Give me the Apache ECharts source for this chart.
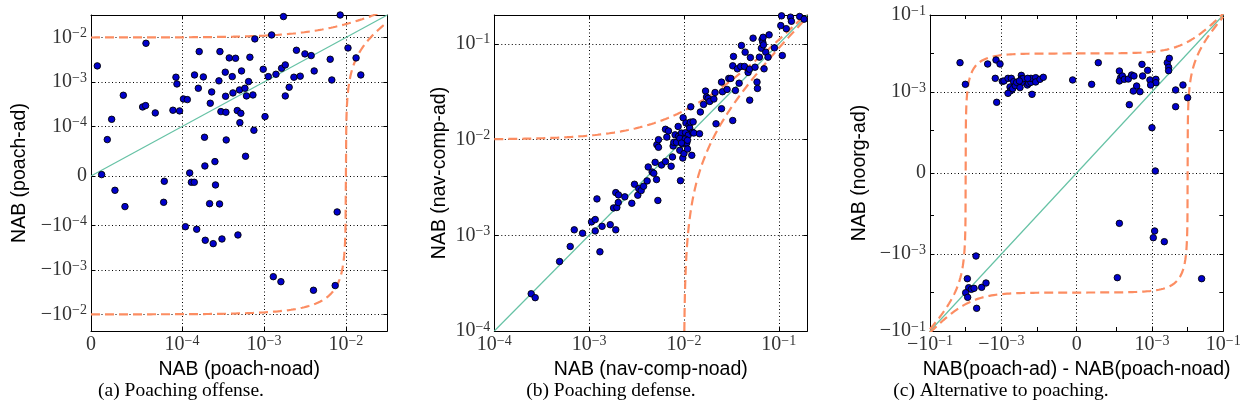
<!DOCTYPE html>
<html><head><meta charset="utf-8">
<script src="https://cdn.jsdelivr.net/npm/echarts@6/dist/echarts.min.js"></script>
<style>html,body{margin:0;padding:0;background:#fff}#chart{width:1245px;height:416px}</style>
</head><body><div id="chart"></div>
<script>
// ---------- Panel (a): Poaching offense ----------
const aX = [6.95e-6,1.17e-5,1.79e-5,2.27e-5,2.63e-5,3.55e-5,3.73e-5,5.67e-5,6.00e-5,6.04e-5,
  7.06e-5,8.05e-5,7.98e-5,9.0e-5,9.33e-5,9.44e-5,9.73e-5,1.04e-4,1.10e-4,1.16e-4,
  1.24e-4,1.30e-4,1.41e-4,1.42e-4,1.51e-4,1.58e-4,1.62e-4,1.82e-4,1.88e-4,1.90e-4,
  1.92e-4,2.17e-4,2.21e-4,2.30e-4,2.40e-4,2.52e-4,2.56e-4,2.82e-4,2.90e-4,2.87e-4,
  2.98e-4,3.07e-4,3.37e-4,3.40e-4,3.46e-4,3.43e-4,3.77e-4,4.10e-4,4.18e-4,4.50e-4,
  4.72e-4,4.81e-4,5.03e-4,5.08e-4,5.22e-4,5.32e-4,5.85e-4,5.96e-4,6.12e-4,6.49e-4,
  6.73e-4,7.33e-4,7.53e-4,7.74e-4,9.79e-4,1.03e-3,1.13e-3,1.24e-3,1.30e-3,1.40e-3,
  1.61e-3,1.64e-3,1.73e-3,1.82e-3,1.82e-3,2.03e-3,2.32e-3,2.49e-3,2.77e-3,3.16e-3,
  3.77e-3,4.02e-3,4.10e-3,6.43e-3,6.73e-3,7.40e-3,7.82e-3,8.51e-3,1.06e-2,1.33e-2,1.52e-2];
const aY = [2.30e-3,2.7e-6,7.35e-5,1.45e-4,-2.90e-5,5.03e-4,-6.20e-5,2.75e-4,2.95e-4,7.41e-3,
  2.02e-4,-1.08e-5,-5.33e-5,2.32e-4,1.28e-3,9.04e-4,2.24e-4,4.16e-4,-1.07e-4,4.02e-4,
  6.07e-6,-1.28e-5,-1.28e-5,1.44e-3,-1.22e-4,7.23e-4,4.82e-3,1.30e-3,7.82e-5,2.02e-5,
  -2.16e-4,-5.60e-5,3.33e-4,5.98e-4,-2.57e-4,2.90e-5,-1.82e-5,1.06e-3,4.82e-3,-5.66e-5,
  2.16e-4,-2.02e-4,1.66e-3,4.78e-4,7.28e-5,2.09e-4,3.48e-3,1.32e-3,5.68e-4,3.41e-3,
  2.28e-4,-1.64e-4,6.64e-4,1.22e-4,1.98e-4,1.77e-3,7.23e-4,3.98e-5,4.86e-4,1.02e-3,
  3.60e-3,5.12e-4,9.24e-5,9.29e-3,1.93e-3,1.67e-4,1.32e-3,1.14e-2,-1.42e-3,1.49e-3,
  -1.84e-3,2.03e-3,2.95e-2,2.42e-3,4.86e-4,7.62e-4,1.28e-3,5.16e-3,1.35e-3,4.28e-3,
  3.92e-3,-2.87e-3,1.77e-3,3.24e-3,1.11e-3,-2.25e-3,-7.28e-5,3.2e-2,5.82e-3,3.48e-3,1.44e-3];
const aXRange = [0, 0.032];
const aYRange = [-0.0236, 0.032];
const aXTicks = [0, 1e-4, 1e-3, 1e-2];
const aYTicks = [-1e-2, -1e-3, -1e-4, 0, 1e-4, 1e-3, 1e-2];

// ---------- Panel (b): Poaching defense ----------
const bX = [2.45e-4,2.70e-4,4.88e-4,6.32e-4,6.97e-4,8.53e-4,1.06e-3,1.16e-3,1.16e-3,1.21e-3,
  1.30e-3,1.37e-3,1.67e-3,1.81e-3,1.91e-3,1.91e-3,1.96e-3,2.03e-3,2.04e-3,2.38e-3,
  2.82e-3,3.01e-3,3.26e-3,3.34e-3,3.54e-3,3.75e-3,4.09e-3,4.20e-3,4.62e-3,4.81e-3,
  4.97e-3,5.14e-3,5.18e-3,5.31e-3,5.39e-3,5.39e-3,5.80e-3,6.39e-3,6.39e-3,6.60e-3,
  6.87e-3,7.33e-3,7.57e-3,7.69e-3,7.82e-3,8.07e-3,8.34e-3,8.69e-3,8.75e-3,9.04e-3,
  9.19e-3,9.42e-3,9.66e-3,9.73e-3,9.81e-3,1.00e-2,1.04e-2,1.05e-2,1.07e-2,1.09e-2,
  1.11e-2,1.13e-2,1.15e-2,1.17e-2,1.18e-2,1.21e-2,1.23e-2,1.25e-2,1.27e-2,1.46e-2,
  1.49e-2,1.61e-2,1.69e-2,1.73e-2,1.80e-2,1.87e-2,2.07e-2,2.13e-2,2.18e-2,2.49e-2,
  2.49e-2,2.55e-2,2.85e-2,2.97e-2,3.12e-2,3.27e-2,3.27e-2,3.33e-2,3.49e-2,3.66e-2,
  3.82e-2,3.97e-2,4.04e-2,4.35e-2,4.42e-2,4.75e-2,4.91e-2,4.94e-2,5.02e-2,5.36e-2,
  5.62e-2,5.90e-2,5.96e-2,6.25e-2,6.56e-2,6.67e-2,6.78e-2,6.84e-2,6.89e-2,7.00e-2,
  7.29e-2,7.71e-2,7.91e-2,9.00e-2,0.105,0.107,0.109,0.120,0.133,0.136,
  0.166,0.185,9.04e-3,1.03e-2,9.42e-3,1.09e-2];
const bY = [2.45e-4,2.23e-4,5.32e-4,7.64e-4,1.14e-3,1.05e-3,1.38e-3,1.46e-3,1.11e-3,2.40e-3,
  6.72e-4,1.24e-3,1.29e-3,1.93e-3,2.79e-3,1.14e-3,1.95e-3,2.20e-3,2.64e-3,2.52e-3,
  2.16e-3,3.41e-3,2.62e-3,3.07e-3,2.93e-3,3.25e-3,3.70e-3,5.17e-3,4.58e-3,4.44e-3,
  5.78e-3,3.82e-3,8.84e-3,2.31e-3,8.30e-3,9.97e-3,5.42e-3,5.88e-3,1.28e-2,1.06e-2,
  1.23e-2,5.26e-3,6.58e-3,8.57e-3,9.35e-3,1.12e-2,9.35e-3,1.37e-2,1.08e-2,7.71e-3,
  3.72e-3,1.17e-2,8.98e-3,6.41e-3,1.69e-2,7.13e-3,1.18e-2,1.49e-2,9.20e-3,7.96e-3,
  1.11e-2,1.41e-2,1.32e-2,1.52e-2,2.20e-2,6.84e-3,1.19e-2,1.53e-2,1.17e-2,1.15e-2,
  1.94e-2,2.33e-2,3.21e-2,2.78e-2,2.69e-2,2.50e-2,2.65e-2,3.10e-2,1.46e-2,2.10e-2,
  3.98e-2,3.16e-2,3.34e-2,4.35e-2,4.35e-2,5.89e-2,1.58e-2,7.38e-2,3.26e-2,5.48e-2,
  3.88e-2,5.80e-2,9.60e-2,5.80e-2,8.18e-2,5.02e-2,5.43e-2,2.58e-2,7.19e-2,0.1146,
  5.70e-2,3.98e-2,3.42e-2,7.26e-2,9.00e-2,0.111,0.104,0.117,9.75e-2,5.48e-2,
  8.18e-2,7.26e-2,0.124,9.08e-2,0.155,0.196,7.55e-2,0.144,0.190,0.172,
  0.193,0.181,1.03e-2,1.01e-2,9.20e-3,9.82e-3];
const bRange = [1e-4, 0.2];

// ---------- Panel (c): Alternative to poaching ----------
const cX = [-1.44e-2,-1.02e-2,-2.42e-3,-1.41e-3,-1.09e-3,-1.48e-3,-1.35e-3,-9.38e-4,-8.43e-4,-6.52e-4,
  -5.25e-4,-4.52e-4,-5.71e-4,-5.48e-4,-6.52e-4,-4.82e-4,-4.06e-4,-3.72e-4,-2.75e-4,-2.75e-4,
  -2.58e-4,-2.47e-4,-3.00e-4,-3.13e-4,-1.87e-4,-1.71e-4,-1.48e-4,-1.48e-4,-1.09e-4,-1.09e-4,
  -9.25e-5,-8.41e-5,-1.38e-4,-1.83e-4,-1.01e-5,3.78e-5,5.46e-5,1.22e-4,1.32e-4,1.48e-4,
  1.22e-4,1.68e-4,2.17e-4,2.69e-4,3.13e-4,5.48e-4,5.25e-4,7.57e-4,3.72e-4,3.00e-4,
  4.61e-4,8.79e-4,1.29e-3,1.29e-3,9.18e-4,2.32e-4,2.69e-3,3.06e-3,2.93e-3,2.93e-3,
  4.61e-3,4.61e-3,7.40e-3,1.00e-2,1.00e-3,1.24e-3,1.22e-4,1.19e-3,1.09e-3,2.22e-3,
  1.07e-4,2.47e-2,-5.13e-3,-8.97e-3,-8.24e-3,-6.93e-3,-5.83e-3,-3.56e-3,-2.69e-3,-1.00e-2,
  -8.79e-3,-4.92e-3];
const cY = [5.75e-3,1.57e-3,5.31e-3,6.75e-3,5.31e-3,2.25e-3,5.35e-4,1.88e-3,1.92e-3,2.25e-3,
  2.25e-3,1.84e-3,1.34e-3,1.07e-3,9.16e-4,1.21e-3,1.45e-3,1.77e-3,2.69e-3,2.20e-3,
  1.77e-3,2.20e-3,1.29e-3,1.92e-3,1.51e-3,1.67e-3,1.77e-3,2.25e-3,2.34e-3,1.81e-3,
  2.12e-3,2.39e-3,8.63e-4,2.25e-3,2.04e-3,1.57e-3,5.75e-3,3.49e-3,2.34e-3,2.59e-3,
  1.92e-3,2.12e-3,2.16e-3,2.75e-3,2.59e-3,2.59e-3,5.20e-3,3.63e-3,1.42e-3,1.05e-3,
  1.01e-3,2.04e-3,2.12e-3,1.73e-3,1.51e-3,4.65e-4,5.75e-3,7.46e-3,4.35e-3,3.56e-3,
  1.12e-3,4.12e-4,1.51e-3,7.06e-4,1.17e-4,4.7e-6,-1.58e-4,-2.50e-4,-3.73e-4,-4.74e-4,
  -4.09e-3,-4.35e-3,-1.12e-3,-4.35e-3,-7.46e-3,-8.24e-3,-7.76e-3,-7.31e-3,-5.64e-3,-1.01e-2,
  -1.33e-2,-2.57e-2];
const cRange = [-0.1, 0.1];
const cTicks = [-1e-1, -1e-3, 0, 1e-3, 1e-1];
const cMinorTicks = [-1e-2, -1e-4, 1e-4, 1e-2];

// reference curves y = x ± margin
const margin = 0.01;

const titles = {
  ax: 'NAB (poach-noad)', ay: 'NAB (poach-ad)',
  bx: 'NAB (nav-comp-noad)', by: 'NAB (nav-comp-ad)',
  cx: 'NAB(poach-ad) - NAB(poach-noad)', cy: 'NAB (noorg-ad)'
};
const captions = ['(a) Poaching offense.', '(b) Poaching defense.', '(c) Alternative to poaching.'];

// ---------- helpers ----------
const LTH = 1e-4;               // symlog linear threshold
const LSC = 1 / (1 - 1 / 10);   // matplotlib linscale adjustment
function sl(v) { const a = Math.abs(v); return a <= LTH ? v / LTH * LSC : Math.sign(v) * (LSC + Math.log10(a / LTH)); }
function isl(t) { const a = Math.abs(t); return a <= LSC ? t / LSC * LTH : Math.sign(t) * LTH * Math.pow(10, a - LSC); }

function fmtPow(v) {
  if (Math.abs(v) < 1e-12) return '{b|0}';
  const e = Math.round(Math.log10(Math.abs(v)));
  return '{b|' + (v < 0 ? '−' : '') + '10}{s|−' + (-e) + '}';
}
const TF = 'Liberation Serif';
const rich = {
  b: { fontFamily: TF, fontSize: 20, color: '#333', lineHeight: 22 },
  s: { fontFamily: TF, fontSize: 14, color: '#333', lineHeight: 12, verticalAlign: 'top' }
};
const nameStyle = { fontFamily: 'Liberation Sans', fontSize: 19.5, color: '#000' };
const frame = { show: true, onZero: false, lineStyle: { color: '#000', width: 1 } };
const tickStyle = { show: true, inside: true, length: 4, lineStyle: { color: '#000', width: 1 } };
const gridLine = { color: '#000', width: 1, type: [1, 2.5] };

function symAxis(g, pos, range, labelVals, tickVals, name, gap) {
  const main = pos === 'bottom' || pos === 'left';
  return {
    type: 'value', gridIndex: g, position: pos, min: sl(range[0]), max: sl(range[1]),
    axisLine: frame,
    axisTick: Object.assign({}, tickStyle, { customValues: tickVals.map(sl) }),
    axisLabel: { show: main, customValues: labelVals.map(sl), margin: pos === 'left' ? 4 : 3,
      formatter: v => fmtPow(isl(v)), rich: rich },
    splitLine: { show: false },
    name: main ? name : '', nameLocation: 'middle', nameGap: gap, nameTextStyle: nameStyle
  };
}
function logAxis(g, pos, range, name, gap) {
  const main = pos === 'bottom' || pos === 'left';
  return {
    type: 'log', logBase: 10, gridIndex: g, position: pos, min: range[0], max: range[1],
    axisLine: frame, axisTick: tickStyle,
    axisLabel: { show: main, margin: pos === 'left' ? 4 : 3, showMinLabel: true, showMaxLabel: true,
      formatter: v => { const e = Math.log10(v); return Math.abs(e - Math.round(e)) < 1e-6 ? fmtPow(v) : ''; },
      rich: rich },
    splitLine: { show: main, lineStyle: gridLine },
    name: main ? name : '', nameLocation: 'middle', nameGap: gap, nameTextStyle: nameStyle
  };
}
function refCurve(c, xr, yr, T, iT) {
  const pts = [], N = 400;
  const tx0 = T(xr[0]), tx1 = T(xr[1]), ty0 = T(yr[0]), ty1 = T(yr[1]);
  for (let i = 0; i <= N; i++) { const x = iT(tx0 + (tx1 - tx0) * i / N); pts.push([x, x + c]); }
  for (let i = 0; i <= N; i++) { const y = iT(ty0 + (ty1 - ty0) * i / N); const x = y - c;
    if (x >= xr[0] && x <= xr[1]) pts.push([x, y]); }
  pts.sort((p, q) => p[0] - q[0]);
  return pts;
}
const lg = Math.log10, p10 = t => Math.pow(10, t);

const dashStyle = { color: '#fc8d62', width: 2.2, type: [9, 5] };
const diagStyle = { color: '#66c2a5', width: 1.2 };
const dotStyle = { color: '#0000cc', borderColor: '#000', borderWidth: 0.9, opacity: 1 };

function gridMarks(xv, yv) {
  return { silent: true, symbol: 'none', z: 1, label: { show: false }, lineStyle: gridLine, animation: false,
    emphasis: { disabled: true },
    data: xv.map(v => ({ xAxis: sl(v) })).concat(yv.map(v => ({ yAxis: sl(v) }))) };
}
function lineSeries(g, data, style, z, extra) {
  return Object.assign({ type: 'line', xAxisIndex: 2 * g, yAxisIndex: 2 * g, data: data, showSymbol: false,
    symbol: 'none', lineStyle: style, z: z, silent: true, clip: true, animation: false }, extra || {});
}
function scatterSeries(g, data) {
  return { type: 'scatter', xAxisIndex: 2 * g, yAxisIndex: 2 * g, data: data, symbolSize: 6.5,
    itemStyle: dotStyle, z: 4, animation: false };
}
const toSym = pts => pts.map(p => [sl(p[0]), sl(p[1])]);

const grids = [
  { left: 91, top: 15, width: 296.3, height: 316 },
  { left: 494.3, top: 15, width: 313, height: 316 },
  { left: 930, top: 15, width: 293.3, height: 316 }
];

const xAxes = [
  symAxis(0, 'bottom', aXRange, aXTicks, aXTicks, titles.ax, 25),
  symAxis(0, 'top', aXRange, aXTicks, aXTicks, '', 0),
  logAxis(1, 'bottom', bRange, titles.bx, 25),
  logAxis(1, 'top', bRange, '', 0),
  symAxis(2, 'bottom', cRange, cTicks, cTicks.concat(cMinorTicks), titles.cx, 25),
  symAxis(2, 'top', cRange, cTicks, cTicks.concat(cMinorTicks), '', 0)
];
const yAxes = [
  symAxis(0, 'left', aYRange, aYTicks, aYTicks, titles.ay, 61),
  symAxis(0, 'right', aYRange, aYTicks, aYTicks, '', 0),
  logAxis(1, 'left', bRange, titles.by, 45),
  logAxis(1, 'right', bRange, '', 0),
  symAxis(2, 'left', cRange, cTicks, cTicks.concat(cMinorTicks), titles.cy, 60),
  symAxis(2, 'right', cRange, cTicks, cTicks.concat(cMinorTicks), '', 0)
];

const series = [
  // panel a
  lineSeries(0, [[sl(0), sl(0)], [sl(aXRange[1]), sl(aXRange[1])]], diagStyle, 2, { markLine: gridMarks(aXTicks, aYTicks) }),
  lineSeries(0, toSym(refCurve(margin, aXRange, aYRange, sl, isl)), dashStyle, 3),
  lineSeries(0, toSym(refCurve(-margin, aXRange, aYRange, sl, isl)), dashStyle, 3),
  scatterSeries(0, aX.map((x, i) => [sl(x), sl(aY[i])])),
  // panel b
  lineSeries(1, [[bRange[0], bRange[0]], [bRange[1], bRange[1]]], diagStyle, 2),
  lineSeries(1, refCurve(margin, bRange, bRange, lg, p10).filter(p => p[1] > 0), dashStyle, 3),
  lineSeries(1, refCurve(-margin, bRange, bRange, lg, p10).filter(p => p[1] > 1e-6), dashStyle, 3),
  scatterSeries(1, bX.map((x, i) => [x, bY[i]])),
  // panel c
  lineSeries(2, [[sl(cRange[0]), sl(cRange[0])], [sl(cRange[1]), sl(cRange[1])]], diagStyle, 2, { markLine: gridMarks(cTicks, cTicks) }),
  lineSeries(2, toSym(refCurve(margin, cRange, cRange, sl, isl)), dashStyle, 3),
  lineSeries(2, toSym(refCurve(-margin, cRange, cRange, sl, isl)), dashStyle, 3),
  scatterSeries(2, cX.map((x, i) => [sl(x), sl(cY[i])]))
];

const capX = [181, 611, 1001];
const graphic = captions.map((t, i) => ({
  type: 'text', x: capX[i], y: 391, silent: true,
  style: { text: t, fontFamily: 'Liberation Serif', fontSize: 19.5, fill: '#000', align: 'center', verticalAlign: 'middle' }
}));

const chart = echarts.init(document.getElementById('chart'), null, { renderer: 'canvas' });
chart.setOption({
  animation: false,
  backgroundColor: '#fff',
  grid: grids,
  xAxis: xAxes,
  yAxis: yAxes,
  series: series,
  graphic: graphic
});
</script></body></html>
